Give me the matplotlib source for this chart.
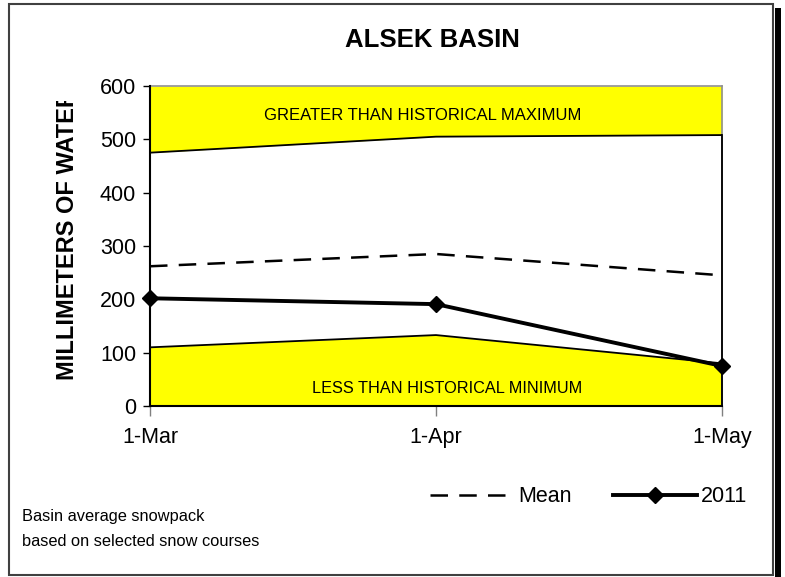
import matplotlib
matplotlib.use("Agg")
from matplotlib import pyplot as plt
from matplotlib.patches import Rectangle
from matplotlib.transforms import Bbox

plt.rcParams["font.family"] = ["Liberation Sans", "DejaVu Sans"]

# data (mm of water)
dates = ["1-Mar", "1-Apr", "1-May"]
hist_max = [475, 505, 508]
hist_min = [110, 133, 80]
mean_vals = [262, 285, 245]
y2011 = [202, 191, 75]
yticks = [0, 100, 200, 300, 400, 500, 600]

W, H = 785, 577
fig = plt.figure(figsize=(W / 100, H / 100), dpi=100)
ax = fig.add_axes([150 / W, 1 - 406 / H, (722 - 150) / W, (406 - 86) / H])

x = list(range(len(dates)))
top = yticks[-1]

# shaded bands
ax.fill_between(x, hist_max, top, color="#ffff00", lw=0, zorder=1)
ax.fill_between(x, 0, hist_min, color="#ffff00", lw=0, zorder=1)
ax.plot(x, hist_max, color="black", lw=1.3, zorder=3)
ax.plot(x, hist_min, color="black", lw=1.3, zorder=3)
ax.plot([x[-1], x[-1]], [0, hist_max[-1]], color="black", lw=1.3, zorder=3, clip_on=False)

ax.plot(x, mean_vals, color="black", lw=1.8, dashes=(7, 4.5), zorder=4, label="Mean")
ax.plot(x, y2011, color="black", lw=2.8, marker="D", ms=8, zorder=5, clip_on=False, label="2011")

ax.text(0.955, 544, "GREATER THAN HISTORICAL MAXIMUM", ha="center", va="center", fontsize=12)
ax.text(1.04, 32, "LESS THAN HISTORICAL MINIMUM", ha="center", va="center", fontsize=11.7)

ax.set_xlim(0, len(dates) - 1)
ax.set_ylim(0, top)
ax.set_xticks(x)
ax.set_xticklabels(dates, fontsize=15.5)
ax.set_yticks(yticks)
ax.set_yticklabels([str(v) for v in yticks], fontsize=15.5)
ax.tick_params(axis="y", direction="out", length=5, width=1, pad=5)
ax.tick_params(axis="x", direction="out", length=7, width=1, color="#808080", pad=8)

for s in ["top", "right"]:
    ax.spines[s].set_color("#909090")
    ax.spines[s].set_linewidth(1.2)
for s in ["left", "bottom"]:
    ax.spines[s].set_color("black")
    ax.spines[s].set_linewidth(1.5)
ax.spines["left"].set_zorder(6)

fig.text(432 / W, 1 - 40 / H, "ALSEK BASIN", ha="center", va="center", fontsize=18.5, fontweight="bold")

# y label is cut off at the top in the original
ylab = fig.text(68 / W, 1 - 235 / H, "MILLIMETERS OF WATER", rotation=90, ha="center", va="center",
                fontsize=17, fontweight="bold")
ylab.set_clip_box(Bbox.from_extents(0, 0, W, H - 101))
ylab.set_clip_on(True)

leg = fig.legend(loc="center", bbox_to_anchor=(589 / W, 1 - 497 / H), ncol=2, frameon=False,
                 fontsize=15.5, handlelength=3.9, handletextpad=0.2, columnspacing=1.9)

fig.text(22 / W, 1 - 517 / H, "Basin average snowpack", ha="left", va="center", fontsize=11.8)
fig.text(22 / W, 1 - 541 / H, "based on selected snow courses", ha="left", va="center", fontsize=11.8)

# chart border with shadow on the right
fig.patches.append(Rectangle((9 / W, 1 - 575 / H), (773 - 9) / W, (575 - 4) / H, transform=fig.transFigure,
                             fill=False, edgecolor="#404040", lw=1.5))
fig.patches.append(Rectangle((775 / W, 0), 6 / W, 1 - 8 / H, transform=fig.transFigure,
                             facecolor="black", edgecolor="none"))

plt.savefig("out.png", dpi=100)
